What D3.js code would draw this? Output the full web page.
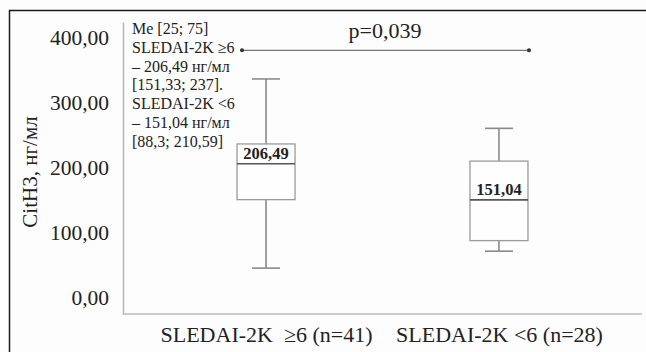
<!DOCTYPE html>
<html>
<head>
<meta charset="utf-8">
<script src="https://cdn.jsdelivr.net/npm/d3@7"></script>
<style>
    html, body { margin: 0; padding: 0; background: #fdfdfd; }
</style>
</head>
<body>
<div id="chartContainer"></div>
<script>

// groups and box statistics
const groups = ['SLEDAI-2K  \u22656 (n=41)', 'SLEDAI-2K <6 (n=28)'];
const whiskerLow = [46, 72];
const q1 = [151.33, 88.3];
const median = [206.49, 151.04];
const q3 = [237, 210.59];
const whiskerHigh = [337, 261];
const medianLabels = ['206,49', '151,04'];

const yTicks = [0, 100, 200, 300, 400];
const pValueText = 'p=0,039';
const pValueLevel = 381;

const noteLines = [
    'Me [25; 75]',
    'SLEDAI-2K \u22656',
    '\u2013 206,49 нг/мл',
    '[151,33; 237].',
    'SLEDAI-2K <6',
    '\u2013 151,04 нг/мл',
    '[88,3; 210,59]'
];

const yTitle = 'CitH3, нг/мл';

const boxes = groups.map((g, i) => ({
    group: g,
    low: whiskerLow[i],
    q1: q1[i],
    median: median[i],
    q3: q3[i],
    high: whiskerHigh[i],
    label: medianLabels[i]
}));

const FONT = '"Liberation Serif", "Times New Roman", serif';
const textColor = '#222';

const width = 646;
const height = 352;
const margin = { top: 22, right: 4, bottom: 38, left: 123 };

const svg = d3.select('#chartContainer')
    .append('svg')
    .attr('width', width)
    .attr('height', height)
    .style('display', 'block')
    .style('font-family', FONT);

// outer frame (only left and top edges are visible)
svg.append('rect')
    .attr('x', 9.5)
    .attr('y', 10.5)
    .attr('width', width + 20)
    .attr('height', height + 20)
    .attr('fill', 'none')
    .attr('stroke', '#1a1a1a')
    .attr('stroke-width', 1.5);

const scaleY = d3.scaleLinear()
    .domain([-24.6, 424.6])
    .range([height - margin.bottom, margin.top]);

const scaleX = d3.scalePoint()
    .domain(groups)
    .range([margin.left, width - margin.right])
    .padding(0.614);

// Y axis
const yAxis = svg.append('g')
    .attr('transform', `translate(${margin.left}, 0)`)
    .call(d3.axisLeft(scaleY)
        .tickValues(yTicks)
        .tickSize(0)
        .tickPadding(14)
        .tickFormat(d => d3.format('.2f')(d).replace('.', ',')));

yAxis.attr('font-family', null).attr('font-size', null);
yAxis.select('.domain').attr('stroke', '#b8b8b8').attr('stroke-width', 1.5);
yAxis.selectAll('text')
    .style('font-family', FONT)
    .style('font-size', '21.5px')
    .attr('fill', textColor);

// X axis
const xAxis = svg.append('g')
    .attr('transform', `translate(0, ${height - margin.bottom})`)
    .call(d3.axisBottom(scaleX)
        .tickSize(0)
        .tickPadding(12));

xAxis.attr('font-family', null).attr('font-size', null);
xAxis.select('.domain')
    .attr('d', `M${margin.left},0H${width - margin.right}`)
    .attr('stroke', '#b8b8b8')
    .attr('stroke-width', 1.5);
xAxis.selectAll('text')
    .style('font-family', FONT)
    .style('font-size', '22px')
    .style('white-space', 'pre')
    .attr('fill', textColor);

// y title
svg.append('text')
    .attr('transform', `translate(37, ${scaleY(200) + 4}) rotate(-90)`)
    .attr('text-anchor', 'middle')
    .style('font-family', FONT)
    .style('font-size', '21px')
    .attr('fill', textColor)
    .text(yTitle);

// boxes
const boxWidth = 58;
const capWidth = 28;

const boxGroup = svg.append('g')
    .selectAll('g')
    .data(boxes)
    .enter()
    .append('g')
    .attr('transform', d => `translate(${scaleX(d.group)}, 0)`);

boxGroup.append('line')
    .attr('x1', 0).attr('x2', 0)
    .attr('y1', d => scaleY(d.high))
    .attr('y2', d => scaleY(d.low))
    .attr('stroke', '#8a8a8a')
    .attr('stroke-width', 1.6);

boxGroup.append('line')
    .attr('x1', -capWidth / 2).attr('x2', capWidth / 2)
    .attr('y1', d => scaleY(d.high))
    .attr('y2', d => scaleY(d.high))
    .attr('stroke', '#8a8a8a')
    .attr('stroke-width', 1.6);

boxGroup.append('line')
    .attr('x1', -capWidth / 2).attr('x2', capWidth / 2)
    .attr('y1', d => scaleY(d.low))
    .attr('y2', d => scaleY(d.low))
    .attr('stroke', '#8a8a8a')
    .attr('stroke-width', 1.6);

boxGroup.append('rect')
    .attr('x', -boxWidth / 2)
    .attr('width', boxWidth)
    .attr('y', d => scaleY(d.q3))
    .attr('height', d => scaleY(d.q1) - scaleY(d.q3))
    .attr('fill', '#fefefe')
    .attr('stroke', '#9a9a9a')
    .attr('stroke-width', 1.3);

boxGroup.append('line')
    .attr('x1', -boxWidth / 2).attr('x2', boxWidth / 2)
    .attr('y1', d => scaleY(d.median))
    .attr('y2', d => scaleY(d.median))
    .attr('stroke', '#555')
    .attr('stroke-width', 1.6);

boxGroup.append('text')
    .attr('y', d => scaleY(d.median) - 5)
    .attr('text-anchor', 'middle')
    .style('font-family', FONT)
    .style('font-size', '16.5px')
    .style('font-weight', 'bold')
    .attr('fill', textColor)
    .text(d => d.label);

// p-value bracket
const pLeft = 242;
const pRight = scaleX(groups[1]) + 30;

svg.append('line')
    .attr('x1', pLeft).attr('x2', pRight)
    .attr('y1', scaleY(pValueLevel))
    .attr('y2', scaleY(pValueLevel))
    .attr('stroke', '#777')
    .attr('stroke-width', 1.3);

svg.selectAll('circle.pend')
    .data([pLeft, pRight])
    .enter()
    .append('circle')
    .attr('class', 'pend')
    .attr('cx', d => d)
    .attr('cy', scaleY(pValueLevel))
    .attr('r', 2)
    .attr('fill', '#333');

svg.append('text')
    .attr('x', 385)
    .attr('y', 38)
    .attr('text-anchor', 'middle')
    .style('font-family', FONT)
    .style('font-size', '22px')
    .attr('fill', textColor)
    .text(pValueText);

// note
svg.append('g')
    .selectAll('text')
    .data(noteLines)
    .enter()
    .append('text')
    .attr('x', 132)
    .attr('y', (d, i) => 34 + i * 18.8)
    .style('font-family', FONT)
    .style('font-size', '16px')
    .attr('fill', textColor)
    .text(d => d);

</script>
</body>
</html>
